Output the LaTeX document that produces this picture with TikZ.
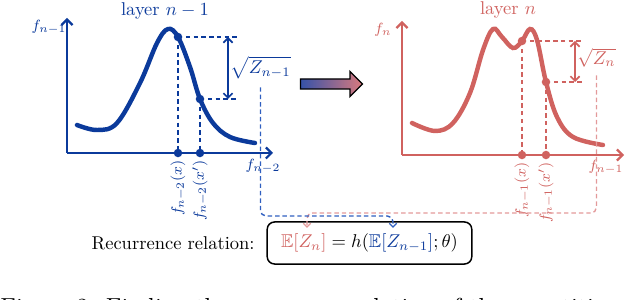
\documentclass[tikz,border=0pt]{standalone}
\usepackage{amsmath}
\usepackage{amssymb}
\usetikzlibrary{arrows.meta, shapes.arrows}
\definecolor{layerblue}{HTML}{0B3A9B}
\definecolor{layerred}{HTML}{D0625F}
\definecolor{linkblue}{HTML}{2F5FC0}
\definecolor{linkred}{HTML}{E3999A}
\definecolor{arrowblue}{HTML}{3552A8}
\definecolor{arrowred}{HTML}{D97A7E}

\tikzset{
  axisline/.style={line width=1.2pt, -{Straight Barb[length=3pt,width=6pt]}},
  curveline/.style={line width=2.4pt, line cap=round},
  guide/.style={line width=1pt, dash pattern=on 2.4pt off 1.8pt},
  gap/.style={line width=0.9pt, {Straight Barb[length=2.5pt,width=5pt]}-{Straight Barb[length=2.5pt,width=5pt]}},
  link/.style={line width=0.75pt, dash pattern=on 2.4pt off 1.6pt, rounded corners=3pt, -{Straight Barb[length=2pt,width=4pt]}},
  dotlabel/.style={font=\footnotesize, rotate=90, anchor=east, inner sep=1pt},
}

\begin{document}
\begin{tikzpicture}[x=0.54pt, y=-0.54pt]
  % pixel grid of the figure: 638 x 300, y running down
  \useasboundingbox (0,0) rectangle (638,300);

  % layer n-1
  \begin{scope}[color=layerblue]
    \node[inner sep=0pt] (titleL) at (165,11) {layer $n-1$};
    \node[font=\footnotesize] (ylabL) at (49,27) {$f_{n-1}$};
    \node[font=\footnotesize, anchor=north, inner sep=1pt] (xlabL) at (263,157) {$f_{n-2}$};
    \draw[axisline] (67,153) -- (67,18);
    \draw[axisline] (67,153) -- (273,153);
    \draw[curveline] plot[smooth, tension=0.6] coordinates {(77,125) (97,130) (117,123) (140,83) (157,43) (168,29) (178,37) (190,67) (200,99) (213,123) (230,137) (255,143)};
    \coordinate (pL1) at (178,37);
    \coordinate (pL2) at (200,99);
    \coordinate (aL1) at (178,153);
    \coordinate (aL2) at (200,153);
    \draw[guide] (pL1) -- (aL1);
    \draw[guide] (pL2) -- (aL2);
    \draw[guide] (pL1) -- ++(59,0);
    \draw[guide] (pL2) -- ++(37,0);
    \foreach \p in {pL1,pL2,aL1,aL2} \fill (\p) circle (2.3pt);
    \draw[gap] (228,37) -- (228,99);
    \node[anchor=west, inner sep=0pt] (zL) at (230,68) {$\sqrt{Z_{n-1}}$};
    \node[dotlabel] (xL1) at (178,158) {$f_{n-2}(x)$};
    \node[dotlabel] (xL2) at (200,158) {$f_{n-2}(x')$};
  \end{scope}

  % layer n
  \begin{scope}[color=layerred]
    \node[inner sep=0pt] (titleR) at (508,10) {layer $n$};
    \node[font=\footnotesize] (ylabR) at (383,30) {$f_n$};
    \node[font=\footnotesize, anchor=north, inner sep=1pt] (xlabR) at (606,158) {$f_{n-1}$};
    \draw[axisline] (402,155) -- (402,21);
    \draw[axisline] (402,155) -- (624,155);
    \draw[curveline] plot[smooth, tension=0.6] coordinates {(412,123) (435,131) (453,123) (470,93) (483,50) (493,29) (502,37) (513,48) (522,41) (530,29) (537,40) (546,82) (557,117) (573,137) (603,145)};
    \coordinate (pR1) at (522,41);
    \coordinate (pR2) at (546,82);
    \coordinate (aR1) at (522,155);
    \coordinate (aR2) at (546,155);
    \draw[guide] (pR1) -- (aR1);
    \draw[guide] (pR2) -- (aR2);
    \draw[guide] (pR1) -- ++(60,0);
    \draw[guide] (pR2) -- ++(36,0);
    \foreach \p in {pR1,pR2,aR1,aR2} \fill (\p) circle (2.3pt);
    \draw[gap] (575,41) -- (575,82);
    \node[anchor=west, inner sep=0pt] (zR) at (577,58) {$\sqrt{Z_n}$};
    \node[dotlabel] (xR1) at (522,160) {$f_{n-1}(x)$};
    \node[dotlabel] (xR2) at (546,160) {$f_{n-1}(x')$};
  \end{scope}

  % step from layer n-1 to layer n
  \node[single arrow, draw=black, line width=0.7pt, left color=arrowblue, right color=arrowred,
        minimum height=33.5pt, inner sep=2.4pt, single arrow head extend=4pt] (step) at (329,84) {};

  % recurrence
  \node[anchor=east, inner sep=0pt] (reclabel) at (255,243) {Recurrence relation:};
  \node[draw, rounded corners=4pt, line width=0.8pt, minimum width=110.5pt, minimum height=22.7pt] (rec) at (369.5,243)
    {$\textcolor{layerred}{\mathbb{E}[Z_n]} = h(\textcolor{layerblue}{\mathbb{E}[Z_{n-1}]};\theta)$};
  \coordinate (inR) at (307,228);
  \coordinate (inL) at (393,228);
  \draw[link, linkred] ([yshift=-4pt]zR.south) |- (inR |- 0,213) -- (inR);
  \draw[link, linkblue] ([yshift=-4pt]zL.south) |- (inL |- 0,216) -- (inL);

  % caption, cut by the page edge
  \begin{scope}
    \clip (0,0) rectangle (638,300);
    \node[anchor=base west, inner sep=0pt, font=\fontsize{13.3}{16}\selectfont] (caption) at (0,316)
      {Figure 2: Finding the recurrence relation of the quantities};
  \end{scope}
\end{tikzpicture}
\end{document}
